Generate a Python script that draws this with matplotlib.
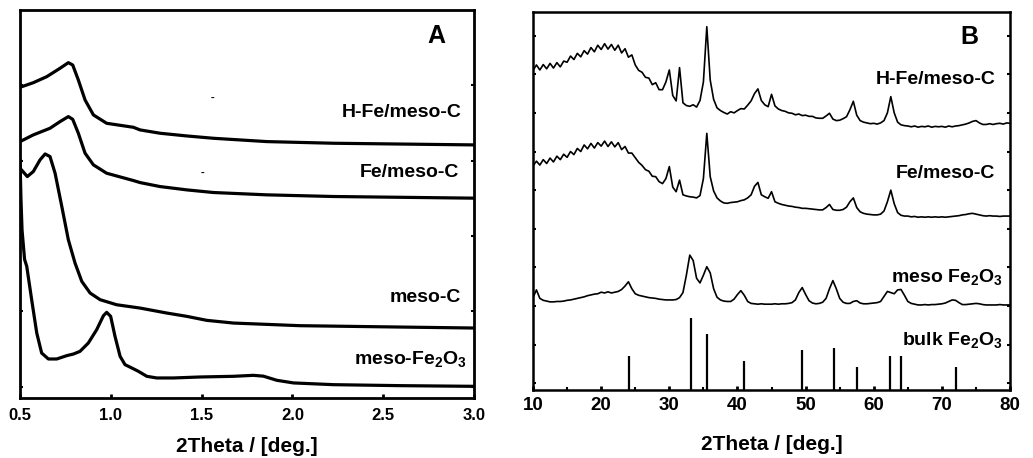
import numpy as np
import matplotlib.pyplot as plt
from matplotlib.ticker import MultipleLocator

plt.rcParams['font.family'] = ['Liberation Sans', 'DejaVu Sans']
plt.rcParams['font.weight'] = 'bold'
plt.rcParams['mathtext.fontset'] = 'custom'
plt.rcParams['mathtext.rm'] = 'Liberation Sans:bold'
plt.rcParams['mathtext.it'] = 'Liberation Sans:bold'
plt.rcParams['mathtext.bf'] = 'Liberation Sans:bold'

# --- panel A: low angle patterns ---
hfe_x = [0.5, 0.573, 0.647, 0.72, 0.766, 0.79, 0.821, 0.858, 0.904, 0.977, 1.124,
         1.161, 1.271, 1.418, 1.565, 1.859, 2.226, 3.0]
hfe_y = [4.975, 5.036, 5.116, 5.227, 5.302, 5.271, 5.072, 4.807, 4.608, 4.497, 4.444,
         4.409, 4.365, 4.329, 4.298, 4.254, 4.232, 4.21]

fe_x = [0.5, 0.573, 0.665, 0.72, 0.766, 0.79, 0.821, 0.858, 0.904, 0.977, 1.124,
        1.161, 1.271, 1.418, 1.565, 1.859, 2.226, 3.0]
fe_y = [4.254, 4.343, 4.431, 4.519, 4.586, 4.55, 4.365, 4.1, 3.945, 3.834, 3.737,
        3.71, 3.657, 3.613, 3.578, 3.547, 3.525, 3.503]

mc_x = [0.5, 0.54, 0.573, 0.61, 0.638, 0.665, 0.693, 0.73, 0.766, 0.803, 0.84, 0.886,
        0.941, 1.032, 1.161, 1.308, 1.418, 1.528, 1.675, 2.042, 2.593, 3.0]
mc_y = [3.9, 3.79, 3.856, 4.011, 4.09, 4.055, 3.834, 3.392, 2.95, 2.64, 2.398, 2.243,
        2.155, 2.088, 2.044, 1.978, 1.934, 1.881, 1.845, 1.81, 1.792, 1.779]

mfe_x = [0.5, 0.505, 0.511, 0.525, 0.537, 0.564, 0.592, 0.619, 0.656, 0.702, 0.757,
         0.794, 0.83, 0.876, 0.922, 0.959, 0.977, 0.999, 1.023, 1.051, 1.078, 1.115,
         1.152, 1.198, 1.253, 1.345, 1.491, 1.675, 1.785, 1.84, 1.914, 2.006, 2.226,
         2.593, 3.0]
mfe_y = [4.0, 3.5, 3.08, 2.69, 2.597, 2.155, 1.713, 1.447, 1.368, 1.368, 1.412,
         1.434, 1.469, 1.58, 1.757, 1.942, 1.987, 1.934, 1.668, 1.403, 1.293, 1.249,
         1.204, 1.138, 1.116, 1.116, 1.129, 1.138, 1.151, 1.14, 1.085, 1.05, 1.027,
         1.014, 1.005]

# --- panel B: wide angle patterns (0.5 deg steps from 10 to 80) ---
tt = np.arange(10, 80.01, 0.5)

hfe_b = [9.10, 9.24, 9.11, 9.25, 9.14, 9.28, 9.16, 9.30, 9.19, 9.34,
         9.31, 9.47, 9.38, 9.54, 9.45, 9.61, 9.52, 9.69, 9.58, 9.75,
         9.64, 9.79, 9.65, 9.77, 9.62, 9.75, 9.55, 9.66, 9.44, 9.50,
         9.24, 9.10, 9.05, 8.92, 8.90, 8.73, 8.78, 8.60, 8.60, 8.80,
         9.11, 8.45, 8.31, 9.17, 8.26, 8.19, 8.17, 8.21, 8.15, 8.32,
         8.80, 10.23, 8.85, 8.35, 8.13, 8.06, 8.01, 7.97, 8.03, 8.00,
         8.06, 8.11, 8.10, 8.20, 8.31, 8.50, 8.62, 8.32, 8.21, 8.16,
         8.48, 8.18, 8.10, 8.06, 8.04, 8.00, 7.99, 7.95, 7.97, 7.93,
         7.94, 7.91, 7.91, 7.87, 7.86, 7.86, 7.92, 7.99, 7.84, 7.80,
         7.81, 7.85, 7.90, 8.08, 8.30, 7.94, 7.80, 7.76, 7.74, 7.72,
         7.73, 7.71, 7.74, 7.80, 8.00, 8.42, 8.00, 7.76, 7.69, 7.67,
         7.66, 7.64, 7.66, 7.63, 7.65, 7.64, 7.66, 7.63, 7.65, 7.64,
         7.65, 7.63, 7.66, 7.64, 7.66, 7.67, 7.69, 7.71, 7.74, 7.78,
         7.80, 7.74, 7.70, 7.70, 7.72, 7.70, 7.72, 7.73, 7.71, 7.74,
         7.73]

fe_b = [6.63, 6.75, 6.65, 6.79, 6.69, 6.83, 6.73, 6.88, 6.79, 6.93,
        6.85, 7.00, 6.92, 7.08, 7.00, 7.17, 7.07, 7.21, 7.09, 7.23,
        7.14, 7.27, 7.13, 7.25, 7.12, 7.23, 7.05, 7.13, 6.96, 6.96,
        6.84, 6.72, 6.64, 6.53, 6.49, 6.36, 6.35, 6.22, 6.17, 6.30,
        6.61, 6.08, 5.96, 6.26, 5.88, 5.85, 5.83, 5.82, 5.80, 5.86,
        6.30, 7.47, 6.35, 5.98, 5.80, 5.72, 5.67, 5.66, 5.68, 5.69,
        5.70, 5.73, 5.75, 5.80, 5.88, 6.10, 6.20, 5.88, 5.83, 5.79,
        5.96, 5.70, 5.66, 5.63, 5.61, 5.59, 5.58, 5.56, 5.55, 5.53,
        5.53, 5.52, 5.51, 5.50, 5.49, 5.49, 5.55, 5.63, 5.50, 5.48,
        5.48, 5.50, 5.56, 5.70, 5.80, 5.55, 5.44, 5.40, 5.38, 5.37,
        5.36, 5.36, 5.38, 5.46, 5.70, 6.00, 5.65, 5.42, 5.35, 5.33,
        5.33, 5.31, 5.32, 5.30, 5.31, 5.30, 5.31, 5.30, 5.31, 5.30,
        5.31, 5.30, 5.31, 5.32, 5.33, 5.34, 5.36, 5.37, 5.39, 5.40,
        5.38, 5.36, 5.34, 5.33, 5.34, 5.33, 5.33, 5.32, 5.33, 5.33,
        5.33]

mfe_b = [3.22, 3.42, 3.20, 3.15, 3.13, 3.11, 3.11, 3.12, 3.12, 3.13,
         3.15, 3.16, 3.18, 3.20, 3.22, 3.24, 3.27, 3.29, 3.31, 3.32,
         3.36, 3.34, 3.37, 3.34, 3.36, 3.38, 3.43, 3.52, 3.63, 3.45,
         3.32, 3.28, 3.26, 3.24, 3.22, 3.21, 3.20, 3.18, 3.17, 3.16,
         3.16, 3.16, 3.17, 3.22, 3.35, 3.80, 4.32, 4.18, 3.72, 3.60,
         3.80, 4.02, 3.86, 3.45, 3.23, 3.16, 3.13, 3.12, 3.12, 3.18,
         3.30, 3.40, 3.28, 3.12, 3.07, 3.06, 3.05, 3.06, 3.05, 3.05,
         3.05, 3.06, 3.05, 3.06, 3.06, 3.07, 3.09, 3.16, 3.35, 3.48,
         3.30, 3.14, 3.08, 3.06, 3.07, 3.10, 3.20, 3.45, 3.66, 3.45,
         3.20, 3.10, 3.07, 3.07, 3.12, 3.14, 3.08, 3.06, 3.06, 3.07,
         3.08, 3.09, 3.12, 3.25, 3.38, 3.35, 3.32, 3.42, 3.43, 3.28,
         3.12, 3.07, 3.05, 3.03, 3.03, 3.04, 3.03, 3.04, 3.04, 3.05,
         3.06, 3.08, 3.12, 3.16, 3.15, 3.09, 3.04, 3.04, 3.05, 3.06,
         3.07, 3.06, 3.04, 3.03, 3.03, 3.03, 3.03, 3.04, 3.03, 3.03,
         3.03]

# reference lines of bulk hematite
bulk_pos = [24.1, 33.2, 35.6, 40.9, 49.5, 54.1, 57.6, 62.4, 64.0, 72.0]
bulk_top = [1.71, 2.68, 2.27, 1.58, 1.86, 1.92, 1.43, 1.71, 1.71, 1.43]

fig = plt.figure(figsize=(10.33, 4.58), dpi=100)
axA = fig.add_axes([0.0194, 0.131, 0.4395, 0.847])
axB = fig.add_axes([0.516, 0.1485, 0.4618, 0.8253])

# panel A
for xs, ys in [(hfe_x, hfe_y), (fe_x, fe_y), (mc_x, mc_y), (mfe_x, mfe_y)]:
    axA.plot(xs, ys, color='black', lw=2.3, solid_joinstyle='round')
axA.set_xlim(0.5, 3.0)
axA.set_ylim(0.85, 6.0)
axA.set_xticks([0.5, 1.0, 1.5, 2.0, 2.5, 3.0])
axA.set_xticklabels(['0.5', '1.0', '1.5', '2.0', '2.5', '3.0'])
axA.set_yticks([1, 2, 3, 4, 5])
axA.set_yticklabels([])
axA.tick_params(axis='x', direction='in', length=3, width=2, labelsize=12, pad=7)
axA.tick_params(axis='y', direction='in', length=2, width=1.5, right=True)
for lbl in axA.get_xticklabels():
    lbl.set_fontweight('bold')
axA.set_xlabel('2Theta / [deg.]', fontsize=15, fontweight='bold', labelpad=10)
for s in axA.spines.values():
    s.set_linewidth(2.0)

axA.text(2.79, 5.65, 'A', fontsize=18, fontweight='bold', ha='center', va='center')
axA.text(2.93, 4.64, 'H-Fe/meso-C', fontsize=14, ha='right', va='center')
axA.text(2.92, 3.84, 'Fe/meso-C', fontsize=14, ha='right', va='center')
axA.text(2.93, 2.19, 'meso-C', fontsize=14, ha='right', va='center')
axA.text(2.96, 1.37, 'meso-Fe$_2$O$_3$', fontsize=14, ha='right', va='center')
axA.text(1.561, 4.84, '-', fontsize=8, ha='center', va='center')
axA.text(1.504, 3.84, '-', fontsize=8, ha='center', va='center')

# panel B
axB.plot(tt, hfe_b, color='black', lw=1.2)
axB.plot(tt, fe_b, color='black', lw=1.2)
axB.plot(tt, mfe_b, color='black', lw=1.2)
axB.vlines(bulk_pos, 0.83, bulk_top, color='black', lw=1.6)
axB.set_xlim(10, 80)
axB.set_ylim(0.83, 10.61)
axB.xaxis.set_major_locator(MultipleLocator(10))
axB.xaxis.set_minor_locator(MultipleLocator(5))
axB.set_yticks(range(1, 11))
axB.set_yticklabels([])
axB.tick_params(axis='x', which='major', direction='in', length=3, width=2,
                labelsize=13.5, pad=5)
axB.tick_params(axis='x', which='minor', direction='in', length=2, width=1.5)
axB.tick_params(axis='y', direction='in', length=2, width=1.5, right=True)
for lbl in axB.get_xticklabels():
    lbl.set_fontweight('bold')
axB.set_xlabel('2Theta / [deg.]', fontsize=15, fontweight='bold', labelpad=15)
for s in axB.spines.values():
    s.set_linewidth(1.8)

axB.text(74.1, 9.97, 'B', fontsize=18, fontweight='bold', ha='center', va='center')
axB.text(77.9, 8.86, 'H-Fe/meso-C', fontsize=14, ha='right', va='center')
axB.text(77.8, 6.43, 'Fe/meso-C', fontsize=14, ha='right', va='center')
axB.text(79.0, 3.75, 'meso Fe$_2$O$_3$', fontsize=14, ha='right', va='center')
axB.text(79.0, 2.12, 'bulk Fe$_2$O$_3$', fontsize=14, ha='right', va='center')

fig.savefig('out.png', dpi=100)
plt.close(fig)
